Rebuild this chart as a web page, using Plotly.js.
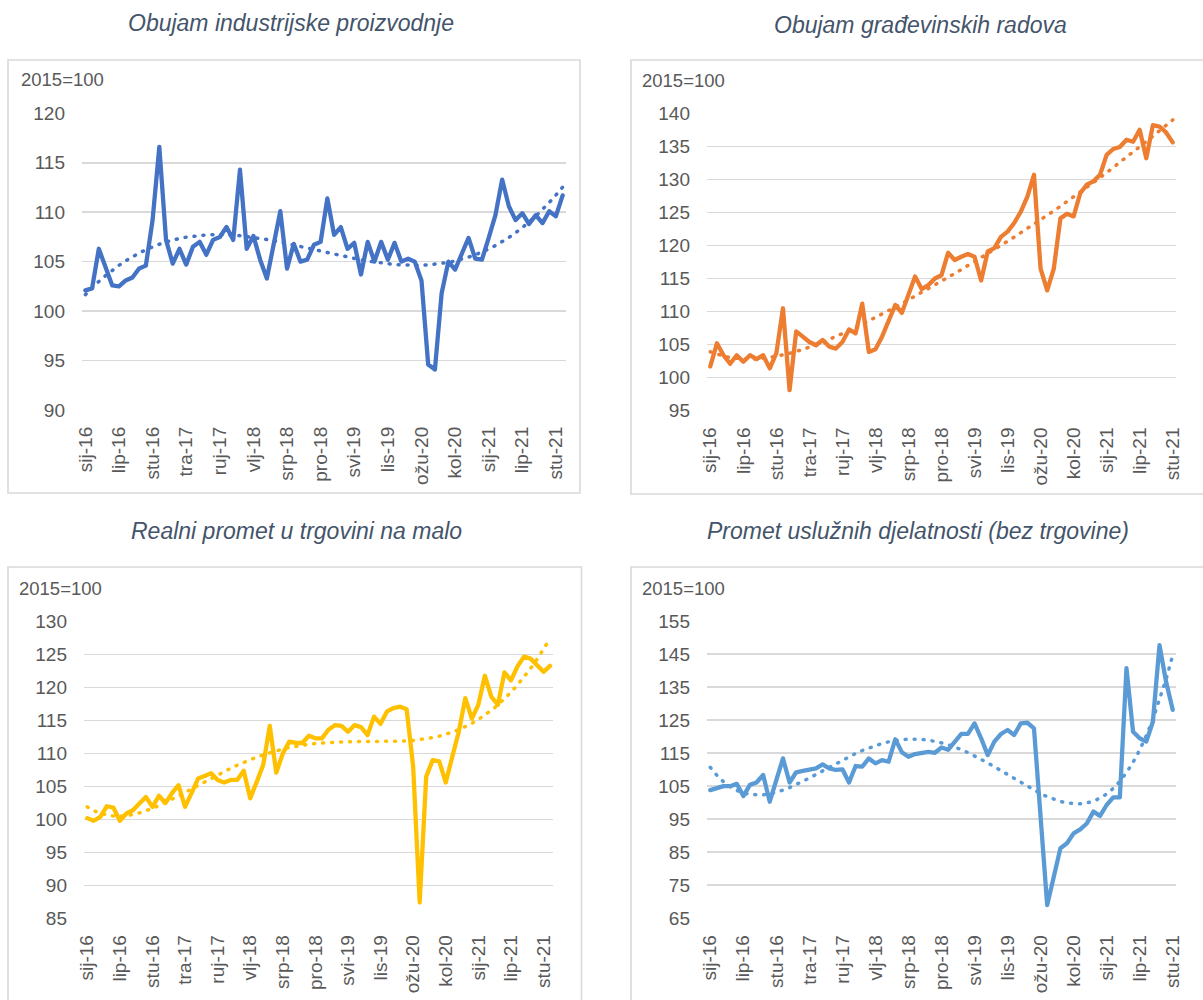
<!DOCTYPE html>
<html><head><meta charset="utf-8">
<script src="https://cdn.plot.ly/plotly-3.0.1.min.js"></script>
<style>
html,body{margin:0;padding:0;background:#fff;}
#chart{width:1203px;height:1000px;}
.scatterlayer .js-line{stroke-linejoin:round !important;stroke-linecap:round !important;}
</style></head><body><div id="chart"></div>
<script>
const months = [
"sij-16","vlj-16","ožu-16","tra-16","svi-16","lip-16","srp-16","kol-16","ruj-16","lis-16","stu-16","pro-16",
"sij-17","vlj-17","ožu-17","tra-17","svi-17","lip-17","srp-17","kol-17","ruj-17","lis-17","stu-17","pro-17",
"sij-18","vlj-18","ožu-18","tra-18","svi-18","lip-18","srp-18","kol-18","ruj-18","lis-18","stu-18","pro-18",
"sij-19","vlj-19","ožu-19","tra-19","svi-19","lip-19","srp-19","kol-19","ruj-19","lis-19","stu-19","pro-19",
"sij-20","vlj-20","ožu-20","tra-20","svi-20","lip-20","srp-20","kol-20","ruj-20","lis-20","stu-20","pro-20",
"sij-21","vlj-21","ožu-21","tra-21","svi-21","lip-21","srp-21","kol-21","ruj-21","lis-21","stu-21","pro-21"];
const tickLabels = ["sij-16","lip-16","stu-16","tra-17","ruj-17","vlj-18","srp-18","pro-18","svi-19","lis-19","ožu-20","kol-20","sij-21","lip-21","stu-21"];

const industrial = [102.1,102.3,106.3,104.5,102.6,102.5,103.1,103.4,104.3,104.6,
109.2,116.6,107.2,104.8,106.3,104.7,106.5,107.0,105.7,107.2,
107.5,108.5,107.2,114.3,106.3,107.6,105.2,103.3,106.5,110.1,
104.3,106.8,105.0,105.2,106.7,107.0,111.4,107.7,108.5,106.3,
106.9,103.7,107.0,105.0,107.0,105.2,106.9,105.0,105.3,105.0,
103.1,94.6,94.1,101.8,105.0,104.2,105.8,107.4,105.3,105.2,
107.4,109.7,113.3,110.6,109.2,109.9,108.8,109.7,108.9,110.1,
109.6,111.7];
const construction = [101.7,105.2,103.4,102.1,103.4,102.4,103.4,102.8,103.4,101.4,
103.7,110.5,98.1,107.0,106.2,105.4,104.9,105.7,104.7,104.4,
105.4,107.3,106.7,111.2,103.9,104.3,106.2,108.5,111.0,109.8,
112.5,115.3,113.4,114.0,115.0,115.5,118.9,117.8,118.3,118.7,
118.3,114.7,119.1,119.6,121.3,122.1,123.4,125.1,127.4,130.7,
116.5,113.2,116.5,124.1,124.8,124.4,127.9,129.2,129.7,130.7,
133.7,134.6,134.9,136.0,135.7,137.5,133.2,138.2,138.0,137.1,
135.6];
const retail = [100.2,99.8,100.4,102.0,101.8,99.8,100.9,101.4,102.4,103.4,
101.9,103.6,102.5,104.0,105.2,101.9,104.0,106.2,106.6,107.0,
106.0,105.6,106.0,106.0,107.4,103.2,105.7,108.3,114.2,107.1,
110.0,111.8,111.6,111.6,112.7,112.3,112.3,113.6,114.3,114.2,
113.3,114.3,114.0,112.8,115.6,114.5,116.4,116.9,117.1,116.7,
108.0,87.4,106.5,109.0,108.8,105.6,109.5,113.3,118.4,115.3,
117.4,121.8,118.6,117.4,122.3,121.1,123.2,124.7,124.4,123.3,
122.4,123.3];
const services = [103.8,104.5,105.0,105.0,105.7,102.0,105.4,106.1,108.4,100.3,
106.4,113.4,106.1,109.2,109.6,109.9,110.4,111.6,110.4,109.9,
110.1,106.1,111.1,110.9,113.4,111.9,112.9,112.4,119.2,115.3,
113.9,114.7,115.1,115.4,115.1,116.7,116.0,118.2,120.8,120.8,
124.0,119.5,114.4,118.5,120.8,122.0,120.5,124.0,124.2,122.5,
95.8,69.0,77.6,86.2,87.7,90.7,91.9,93.7,97.3,96.0,
99.3,101.6,101.6,140.7,121.5,119.5,118.5,124.5,147.7,136.6,
128.1];

const titles = ["Obujam industrijske proizvodnje","Obujam građevinskih radova","Realni promet u trgovini na malo","Promet uslužnih djelatnosti (bez trgovine)"];
const baseLabel = "2015=100";
const colors = ["#4472C4","#ED7D31","#FFC000","#5B9BD5"];
const trendDegree = [3,5,5,4];

// least-squares polynomial trendline (as Excel "polynomial" trendline)
function polyTrend(ys, deg){
  const n = ys.length, m = deg+1;
  const xs = ys.map((_,i)=> 2*i/(n-1)-1);
  const A = Array.from({length:m},()=>new Array(m).fill(0));
  const b = new Array(m).fill(0);
  for(let k=0;k<n;k++){
    const p=[]; let v=1; for(let j=0;j<m;j++){p.push(v); v*=xs[k];}
    for(let r=0;r<m;r++){ b[r]+=p[r]*ys[k]; for(let c=0;c<m;c++) A[r][c]+=p[r]*p[c]; }
  }
  for(let col=0;col<m;col++){
    let piv=col; for(let r=col+1;r<m;r++) if(Math.abs(A[r][col])>Math.abs(A[piv][col])) piv=r;
    [A[col],A[piv]]=[A[piv],A[col]]; [b[col],b[piv]]=[b[piv],b[col]];
    for(let r=0;r<m;r++){ if(r===col) continue; const f=A[r][col]/A[col][col];
      for(let c=col;c<m;c++) A[r][c]-=f*A[col][c]; b[r]-=f*b[col]; }
  }
  const coef = b.map((v,i)=>v/A[i][i]);
  return xs.map(x=>{ let s=0,v=1; for(let j=0;j<m;j++){ s+=coef[j]*v; v*=x; } return s; });
}

const W=1203, H=1000;
const px = x => x/W, py = y => 1-y/H;
const font = '"Liberation Sans", Arial, sans-serif';
const txt = '#595959';

const series = [industrial, construction, retail, services];
const yRanges = [[90,120],[95,140],[85,130],[65,155]];
const yDticks = [5,5,5,10];
// plot areas in pixels: [left, right, top, bottom]
const areas = [[82,566,113.3,410],[707,1176,113.3,410.7],[84,553.3,621.7,918.3],[707,1176,621,918.3]];
const boxes = [[8,580,60,493],[631,1210,60,494],[8,581.5,567,1010],[631,1210,567,1010]];
const titlePos = [[291,23],[920,25],[296,531],[918,531]];
const basePos = [[19,80],[640,81],[17,588],[640,588]];

const traces=[]; const layout = {
  width:W, height:H, margin:{l:0,r:0,t:0,b:0}, paper_bgcolor:'#fff', plot_bgcolor:'#fff',
  showlegend:false, font:{family:font, color:txt}, shapes:[], annotations:[]
};
series.forEach((ys,k)=>{
  const n = ys.length; const cats = months.slice(0,n);
  const sfx = k===0 ? '' : String(k+1);
  traces.push({x:cats, y:ys, type:'scatter', mode:'lines', xaxis:'x'+sfx, yaxis:'y'+sfx,
    line:{color:colors[k], width:4.3}, hoverinfo:'x+y'});
  traces.push({x:cats, y:polyTrend(ys, trendDegree[k]), type:'scatter', mode:'lines', xaxis:'x'+sfx, yaxis:'y'+sfx,
    line:{color:colors[k], width:3.5, dash:'1px,8px'}, hoverinfo:'skip'});
  const a = areas[k];
  layout['xaxis'+sfx] = {domain:[px(a[0]),px(a[1])], anchor:'y'+sfx, type:'category',
    categoryorder:'array', categoryarray:cats, range:[-0.5,n-0.5],
    tickmode:'array', tickvals:tickLabels, ticktext:tickLabels, tickangle:-90,
    tickfont:{size:19,color:txt,family:font}, showgrid:false, zeroline:false, showline:false,
    ticks:'', ticklabelstandoff:12, fixedrange:true};
  layout['yaxis'+sfx] = {domain:[py(a[3]),py(a[2])], anchor:'x'+sfx, range:yRanges[k],
    tick0:yRanges[k][0], dtick:yDticks[k], showgrid:true, gridcolor:'#d9d9d9', gridwidth:1.6,
    zeroline:false, showline:false, ticks:'', tickfont:{size:19,color:txt,family:font},
    ticklabelstandoff:16, fixedrange:true};
  const b = boxes[k];
  layout.shapes.push({type:'rect', xref:'paper', yref:'paper', x0:px(b[0]), x1:px(b[1]), y0:py(b[3]), y1:py(b[2]),
    line:{color:'#d9d9d9', width:1.6}, fillcolor:'rgba(0,0,0,0)', layer:'below'});
  layout.annotations.push({text:'<i>'+titles[k]+'</i>', xref:'paper', yref:'paper', x:px(titlePos[k][0]), y:py(titlePos[k][1]),
    xanchor:'center', yanchor:'middle', showarrow:false, font:{size:23, color:'#44546A', family:font, style:'italic'}});
  layout.annotations.push({text:baseLabel, xref:'paper', yref:'paper', x:px(basePos[k][0]), y:py(basePos[k][1]),
    xanchor:'left', yanchor:'middle', showarrow:false, font:{size:18.5, color:txt, family:font}});
});
Plotly.newPlot('chart', traces, layout, {displayModeBar:false, staticPlot:true});
</script></body></html>
